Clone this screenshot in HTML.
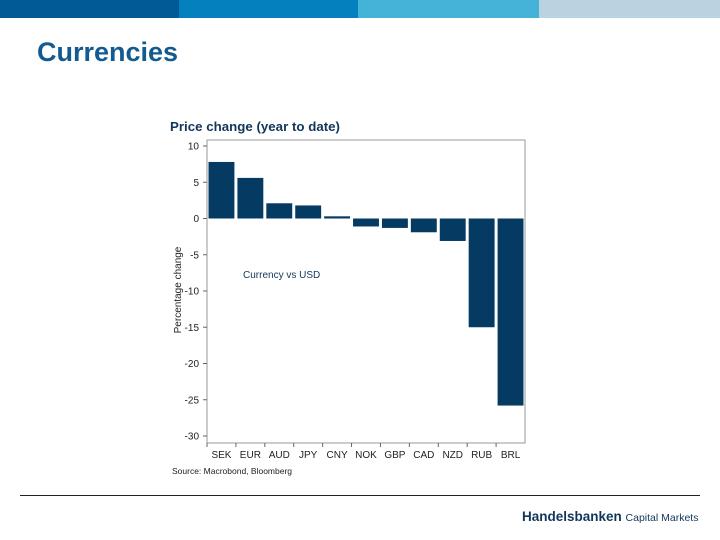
<!DOCTYPE html>
<html><head><meta charset="utf-8"><style>
body{margin:0;width:720px;height:540px;background:#fff;position:relative;overflow:hidden;font-family:"Liberation Sans",sans-serif}
.s{position:absolute;top:0;height:18px}
</style></head><body>
<div class="s" style="left:0;width:179px;background:#005a96"></div>
<div class="s" style="left:179px;width:179px;background:#0380bd"></div>
<div class="s" style="left:358px;width:181px;background:#45b3d7"></div>
<div class="s" style="left:539px;width:181px;background:#bad3e0"></div>
<div style="position:absolute;left:37px;top:37px;font-size:27px;font-weight:bold;color:#135a90">Currencies</div>
<svg width="720" height="540" style="position:absolute;left:0;top:0">
<text x="170" y="131" font-size="13.3" font-weight="bold" fill="#12365a">Price change (year to date)</text>
<rect x="207" y="140" width="318" height="303" fill="none" stroke="#999" stroke-width="1"/>
<g id="axes"></g><g id="bars"></g>
<text x="243" y="278" font-size="10" fill="#12365a">Currency vs USD</text>
<text transform="translate(181,290) rotate(-90)" text-anchor="middle" font-size="10" fill="#222">Percentage change</text>
<text x="172" y="474" font-size="8.5" fill="#222">Source: Macrobond, Bloomberg</text>
<line x1="20" y1="495.5" x2="700" y2="495.5" stroke="#222" stroke-width="1"/>
<text x="522" y="521" font-size="13.5" font-weight="bold" fill="#12365a">Handelsbanken <tspan font-size="10.5" font-weight="normal">Capital Markets</tspan></text>
</svg>
<script>
const categories=["SEK","EUR","AUD","JPY","CNY","NOK","GBP","CAD","NZD","RUB","BRL"];
const values=[7.8,5.6,2.1,1.8,0.3,-1.1,-1.3,-1.9,-3.1,-15,-25.8];
const yTicks=[10,5,0,-5,-10,-15,-20,-25,-30];
const NS="http://www.w3.org/2000/svg";
const L=207,R=525,B=443;
function y(v){return 218.5-(v*7.25);}
const bw=(R-L)/categories.length;
function x(i){return L+i*bw;}
const ax=document.getElementById('axes'),bg=document.getElementById('bars');
function mk(t,a,p){const e=document.createElementNS(NS,t);for(const k in a)e.setAttribute(k,a[k]);p.appendChild(e);return e;}
yTicks.forEach(t=>{
 const l=mk('line',{x1:L-4,x2:L,y1:y(t),y2:y(t),stroke:'#666'},ax);
 
 
 const tx=mk('text',{x:L-8,y:y(t)+3.5,'text-anchor':'end','font-size':10,fill:'#222'},ax);
 tx.textContent=t;
 
 
});
categories.forEach((c,i)=>{
 const v=values[i];
 const r=mk('rect',{x:x(i)+1.5,width:bw-3,y:Math.min(y(v),y(0)),height:Math.abs(y(v)-y(0)),fill:'#053a63'},bg);
 
 
 const tk=mk('line',{x1:x(i),x2:x(i),y1:B,y2:B+4,stroke:'#666'},ax);
 
 
 const tx=mk('text',{x:x(i)+bw/2,y:B+15,'text-anchor':'middle','font-size':10,fill:'#222'},ax);
 tx.textContent=c;
 
 
});
</script>
</body></html>
